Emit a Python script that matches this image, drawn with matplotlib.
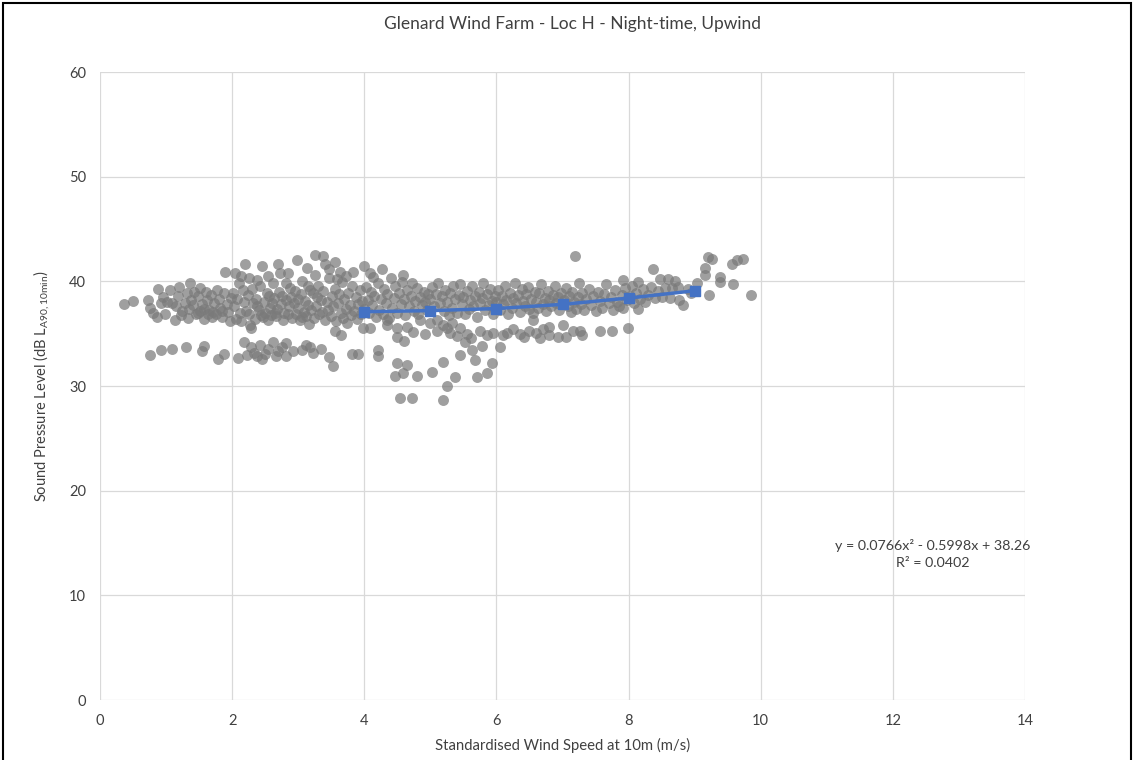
import matplotlib
matplotlib.use("Agg")
import matplotlib.pyplot as plt
from matplotlib.patches import Rectangle

# ---------------- data ----------------
title = "Glenard Wind Farm - Loc H - Night-time, Upwind"
x_label = "Standardised Wind Speed at 10m (m/s)"
y_label = r"Sound Pressure Level (dB L$_{\mathregular{A90,10min}}$)"
x_ticks = [0, 2, 4, 6, 8, 10, 12, 14]
y_ticks = [0, 10, 20, 30, 40, 50, 60]
equation = "y = 0.0766x\u00b2 - 0.5998x + 38.26"
r_squared = "R\u00b2 = 0.0402"

pts_a = [(0.37,37.8),(0.50,38.1),(0.73,38.2),(0.76,37.5),(0.88,39.3),(0.86,36.6),(0.95,38.5),(0.80,37.0),
         (0.92,37.9),(0.98,36.9),(0.76,33.0),(0.93,33.4)]
pts_b = [(1.06,39.2),(1.09,37.9),(1.13,36.3),(1.24,37.2),(1.31,38.9),(1.36,39.8),(1.41,37.7),(1.51,39.4),
         (1.51,37.2),(1.62,38.2),(1.69,36.6),(1.77,39.2),(1.82,37.5),(1.89,40.9),(1.94,37.1),(1.02,38.0),
         (1.15,37.6),(1.18,38.6),(1.22,36.8),(1.28,37.9),(1.33,36.5),(1.38,38.2),(1.45,36.9),(1.48,38.6),
         (1.55,37.8),(1.58,36.4),(1.60,39.0),(1.65,37.3),(1.68,38.7),(1.72,37.9),(1.75,36.9),(1.80,38.3),
         (1.85,36.6),(1.88,38.9),(1.92,37.8),(1.97,36.2),(1.99,38.4),(1.20,39.5),(1.43,39.0),(1.57,37.4),
         (1.71,37.1),(1.84,37.2),(1.35,37.4),(1.48,37.0),(1.63,36.9),
         (1.09,33.5),(1.30,33.7),(1.57,33.8),(1.79,32.6),(1.88,33.1),(1.55,33.3)]
pts_c = [(2.01,38.9),(2.04,40.8),(2.12,37.0),(2.16,39.2),(2.19,41.7),(2.27,35.8),(2.29,35.5),(2.32,37.9),
         (2.37,40.1),(2.45,41.5),(2.47,36.6),(2.52,38.9),(2.57,37.5),(2.62,39.8),(2.69,41.7),(2.72,40.8),
         (2.77,36.3),(2.82,38.2),(2.87,39.4),(2.98,42.0),(2.03,37.6),(2.06,36.4),(2.08,38.3),(2.10,39.8),
         (2.14,36.2),(2.18,38.0),(2.21,37.2),(2.24,38.7),(2.26,36.9),(2.30,39.3),(2.34,36.4),(2.36,38.3),
         (2.40,37.3),(2.42,39.6),(2.44,36.8),(2.48,38.0),(2.50,37.0),(2.54,36.3),(2.56,38.6),(2.59,36.8),
         (2.61,37.9),(2.64,38.4),(2.66,36.7),(2.68,37.4),(2.71,39.0),(2.74,37.8),(2.76,38.6),(2.79,37.0),
         (2.81,39.8),(2.84,36.9),(2.86,37.6),(2.89,38.5),(2.91,36.5),(2.93,37.9),(2.95,39.1),(2.97,36.9),
         (2.99,38.3),(2.25,40.3),(2.55,40.5),(2.85,40.8),(2.14,40.5),(2.65,37.0),(2.38,37.6),
         (2.09,32.7),(2.18,34.2),(2.29,33.7),(2.37,32.9),(2.42,33.9),(2.50,33.1),(2.62,34.2),(2.67,32.9),
         (2.75,33.7),(2.82,32.9),(2.82,34.1),(2.33,33.2),(2.55,33.5),(2.45,32.6),(2.70,33.3),(2.92,33.3),
         (2.22,33.0)]
pts_d = [(3.00,37.5),(3.02,36.3),(3.13,41.3),(3.18,39.2),(3.25,42.5),(3.28,38.5),(3.37,42.4),(3.40,41.7),
         (3.56,41.8),(3.63,40.9),(3.83,40.9),(3.04,38.8),(3.06,40.0),(3.08,37.1),(3.10,38.1),(3.12,36.7),
         (3.15,37.7),(3.17,35.9),(3.20,37.3),(3.22,38.9),(3.24,36.5),(3.27,37.6),(3.30,39.6),(3.32,36.9),
         (3.34,38.2),(3.36,37.1),(3.38,39.1),(3.41,36.3),(3.43,38.0),(3.45,37.3),(3.47,40.3),(3.49,36.7),
         (3.51,38.6),(3.53,37.6),(3.55,39.3),(3.57,36.2),(3.60,37.9),(3.62,38.8),(3.64,37.0),(3.66,39.9),
         (3.68,36.5),(3.70,38.3),(3.72,37.4),(3.74,36.0),(3.76,38.9),(3.78,37.7),(3.80,36.8),(3.82,39.6),
         (3.85,37.2),(3.87,38.5),(3.89,36.4),(3.91,37.8),(3.93,39.2),(3.95,36.9),(3.97,38.1),(3.99,37.4),
         (3.26,40.6),(3.58,40.2),(3.46,41.2),(3.15,39.6),(3.05,36.6),(3.73,40.5),
         (3.05,33.4),(3.18,33.7),(3.22,33.2),(3.56,35.3),(3.46,32.8),(3.53,31.9),(3.81,33.1),(3.90,33.1),
         (3.65,34.9),(3.12,33.9),(3.34,33.5)]
pts_e = [(4.00,41.5),(4.08,40.8),(4.27,41.2),(4.02,39.5),(4.05,38.2),(4.07,37.0),(4.10,39.0),(4.12,37.7),
         (4.15,38.6),(4.17,36.6),(4.20,39.8),(4.22,37.3),(4.25,38.3),(4.28,36.9),(4.30,39.3),(4.33,37.9),
         (4.35,38.8),(4.38,36.5),(4.40,40.3),(4.42,37.5),(4.45,38.4),(4.47,39.6),(4.50,37.0),(4.52,38.9),
         (4.55,37.8),(4.57,39.9),(4.60,38.3),(4.62,36.8),(4.65,39.2),(4.67,37.6),(4.70,38.6),(4.72,39.8),
         (4.75,37.2),(4.77,38.1),(4.80,39.4),(4.82,36.9),(4.85,38.5),(4.87,37.7),(4.90,39.0),(4.92,38.0),
         (4.95,37.3),(4.97,38.8),(4.13,40.4),(4.58,40.6),(4.35,36.3),
         (4.08,35.5),(3.98,35.5),(4.34,35.8),(4.49,35.5),(4.64,35.6),(4.84,36.3),(4.50,34.7),(4.20,33.4),
         (4.20,32.9),(4.49,32.2),(4.64,32.0),(4.46,31.0),(4.80,31.0),(4.58,31.2),(4.54,28.9),(4.72,28.9),
         (4.74,35.2),(4.92,35.0),(4.60,34.3)]
pts_f = [(5.00,38.3),(5.02,39.5),(5.05,37.6),(5.08,38.8),(5.10,36.3),(5.12,39.8),(5.15,37.9),(5.18,38.6),
         (5.20,37.2),(5.22,39.2),(5.25,38.0),(5.28,36.8),(5.30,38.9),(5.33,37.5),(5.35,39.6),(5.38,38.3),
         (5.40,37.0),(5.43,38.7),(5.45,39.7),(5.48,37.8),(5.50,38.5),(5.53,36.9),(5.55,39.1),(5.58,37.4),
         (5.60,38.2),(5.63,39.6),(5.65,37.6),(5.68,38.6),(5.70,36.6),(5.73,39.0),(5.75,37.9),(5.78,38.4),
         (5.80,39.8),(5.83,37.3),(5.85,38.8),(5.88,37.7),(5.90,39.3),(5.93,38.1),(5.95,36.9),(5.98,38.6),
         (5.32,36.0),(5.00,36.0),
         (5.19,35.8),(5.30,35.1),(5.45,35.5),(5.75,35.3),(5.95,35.1),(5.10,35.3),(5.40,34.8),(5.55,35.0),
         (5.62,34.6),(5.85,34.9),(5.25,35.5),
         (5.02,31.3),(5.19,32.3),(5.37,30.9),(5.25,30.0),(5.19,28.7),(5.70,30.9),(5.85,31.2),(5.93,32.2),
         (5.67,32.5),(5.63,33.4),(5.52,34.2),(5.45,33.0),(5.78,33.8)]
pts_g = [(6.00,38.0),(6.03,39.2),(6.05,37.3),(6.08,38.6),(6.10,37.8),(6.13,39.6),(6.15,38.2),(6.18,36.9),
         (6.20,38.9),(6.23,37.5),(6.25,38.4),(6.28,39.8),(6.30,37.9),(6.33,38.7),(6.35,37.1),(6.38,39.3),
         (6.40,38.1),(6.43,37.6),(6.45,38.8),(6.48,39.5),(6.50,37.4),(6.53,38.3),(6.55,37.0),(6.58,39.0),
         (6.60,38.0),(6.63,37.5),(6.65,38.9),(6.68,39.7),(6.70,37.8),(6.73,38.4),(6.75,37.2),(6.78,39.1),
         (6.80,38.2),(6.83,37.6),(6.85,38.7),(6.88,39.6),(6.90,37.9),(6.93,38.5),(6.95,37.3),(6.98,38.9),
         (6.05,33.7),(6.16,35.1),(6.35,35.0),(6.50,35.3),(6.55,36.3),(6.80,35.6),(6.80,34.9),(6.66,34.6),
         (6.93,34.7),(6.25,35.4),(6.42,34.7),(6.10,34.9),(6.60,35.1),(6.70,35.4)]
pts_h = [(7.00,35.8),(7.06,34.7),(7.16,35.3),(7.26,35.3),(7.29,34.9),(7.56,35.3),(7.75,35.3),(7.99,35.5),
         (7.19,42.4),(7.02,38.2),(7.05,39.4),(7.08,37.6),(7.10,38.6),(7.13,37.1),(7.15,39.0),(7.18,38.0),
         (7.20,37.4),(7.23,38.5),(7.25,39.8),(7.28,37.8),(7.30,38.9),(7.33,37.3),(7.36,38.3),(7.40,39.3),
         (7.43,37.7),(7.46,38.6),(7.50,37.2),(7.53,39.0),(7.56,38.1),(7.60,37.5),(7.63,38.8),(7.66,39.7),
         (7.70,37.9),(7.73,38.5),(7.76,37.3),(7.80,39.2),(7.83,38.0),(7.86,37.6),(7.90,38.7),(7.91,40.1),
         (7.91,37.5),(7.94,39.4),(7.97,38.2)]
pts_i = [(8.02,38.6),(8.05,39.6),(8.08,37.9),(8.12,38.9),(8.14,39.9),(8.18,38.3),(8.22,39.3),(8.25,38.0),
         (8.30,38.7),(8.34,39.5),(8.37,41.2),(8.40,38.4),(8.44,39.1),(8.47,40.2),(8.50,38.5),(8.55,39.4),
         (8.59,40.2),(8.62,38.4),(8.65,39.4),(8.70,40.0),(8.77,38.2),(8.82,37.7),(8.75,39.5),(8.90,39.3),
         (8.95,38.9),(9.03,39.8),(9.15,40.6),(9.15,41.3),(9.20,42.3),(9.26,42.1),(9.22,38.7),(9.38,39.9),
         (9.38,40.4),(9.56,41.7),(9.64,42.0),(9.73,42.1),(9.58,39.7),(9.85,38.7),(8.15,37.4)]

trend_x = [4, 5, 6, 7, 8, 9]
trend_y = [37.1, 37.2, 37.4, 37.8, 38.4, 39.1]

# ---------------- plot ----------------
plt.rcParams['font.family'] = ['Lato', 'DejaVu Sans']
fig = plt.figure(figsize=(11.34, 7.6), dpi=100)
ax = fig.add_axes([100/1134, 1 - 700/760, 925/1134, 628/760])

all_pts = pts_a + pts_b + pts_c + pts_d + pts_e + pts_f + pts_g + pts_h + pts_i
xs = [p[0] for p in all_pts]
ys = [p[1] for p in all_pts]
ax.scatter(xs, ys, s=62, color='#7a7a7a', alpha=0.72, linewidths=0, zorder=3)
ax.plot(trend_x, trend_y, color='#4472C4', lw=2.5, marker='s', ms=7.5, zorder=4)

ax.set_xlim(0, 14)
ax.set_ylim(0, 60)
ax.set_xticks(x_ticks)
ax.set_yticks(y_ticks)
ax.grid(True, color='#d9d9d9', lw=0.9)
ax.set_axisbelow(True)
for s in ax.spines.values():
    s.set_visible(False)
ax.tick_params(length=0, labelsize=10.5, colors='#404040', pad=10)

ax.set_xlabel(x_label, fontsize=10.7, color='#404040', labelpad=7)
ax.set_ylabel(y_label, fontsize=10.5, color='#404040', labelpad=12)
fig.text(0.505, 1 - 24/760, title, ha='center', va='center', fontsize=12.5, color='#404040')

ax.text(12.6, 14.8, equation, ha='center', va='center', fontsize=10.3, color='#404040')
ax.text(12.6, 13.1, r_squared, ha='center', va='center', fontsize=10.3, color='#404040')

fig.patches.append(Rectangle((3/1134, -0.02), 1128/1134, 1 - 3/760 + 0.02,
                             transform=fig.transFigure, fill=False, ec='black', lw=1.5))

fig.savefig('out.png', dpi=100)
